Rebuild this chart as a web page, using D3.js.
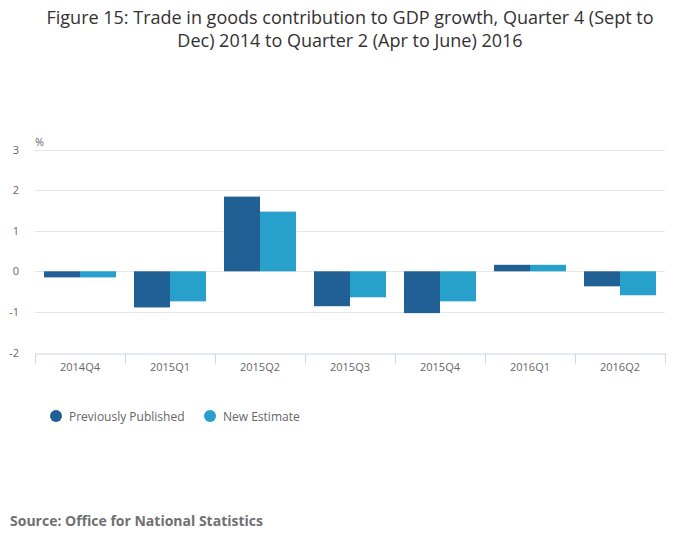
<!DOCTYPE html>
<html lang="en">
  <head>
    <meta charset="UTF-8" />
    <title>Trade in goods contribution to GDP growth</title>
    <script src="https://d3js.org/d3.v7.min.js"></script>
    <style>
      body { margin: 0; background: #fff; }
      text { font-family: "Open Sans", sans-serif; }
    </style>
  </head>
  <body>
    <div id="chart"></div>

    <script>
      // Quarters and the two estimates (percentage points)
      const quarters = ["2014Q4", "2015Q1", "2015Q2", "2015Q3", "2015Q4", "2016Q1", "2016Q2"];
      const previouslyPublished = [-0.15, -0.89, 1.84, -0.86, -1.03, 0.16, -0.37];
      const newEstimate = [-0.15, -0.74, 1.47, -0.64, -0.74, 0.16, -0.59];
      const seriesNames = ["Previously Published", "New Estimate"];
      const yTicks = [-2, -1, 0, 1, 2, 3];

      const width = 700,
        height = 549;
      const margin = { top: 149.5, right: 35, bottom: 196.5, left: 35 };

      const svg = d3
        .select("#chart")
        .append("svg")
        .attr("width", width)
        .attr("height", height);

      // Title, two lines
      svg
        .append("text")
        .attr("x", 350)
        .attr("y", 23.5)
        .attr("text-anchor", "middle")
        .attr("font-size", 18)
        .attr("fill", "#323132")
        .selectAll("tspan")
        .data([
          "Figure 15: Trade in goods contribution to GDP growth, Quarter 4 (Sept to",
          "Dec) 2014 to Quarter 2 (Apr to June) 2016",
        ])
        .join("tspan")
        .attr("x", 350)
        .attr("dy", (d, i) => (i === 0 ? 0 : 23))
        .text((d) => d);

      const x = d3
        .scaleBand()
        .domain(quarters)
        .range([margin.left, width - margin.right])
        .paddingInner(0)
        .paddingOuter(0);

      const xInner = d3
        .scaleBand()
        .domain(seriesNames)
        .range([0, x.bandwidth()])
        .paddingOuter(0.25);

      const y = d3
        .scaleLinear()
        .domain([-2, 3])
        .range([height - margin.bottom, margin.top]);

      const color = d3
        .scaleOrdinal()
        .domain(seriesNames)
        .range(["#206095", "#27a0cc"]);

      // gridlines
      svg
        .append("g")
        .selectAll("line")
        .data(yTicks.filter((t) => t !== -2))
        .join("line")
        .attr("x1", margin.left)
        .attr("x2", width - margin.right)
        .attr("y1", (d) => Math.round(y(d)) + 0.5)
        .attr("y2", (d) => Math.round(y(d)) + 0.5)
        .attr("stroke", "#e6e6e6")
        .attr("stroke-width", 1);

      // y labels
      svg
        .append("g")
        .selectAll("text")
        .data(yTicks)
        .join("text")
        .attr("x", 19)
        .attr("y", (d) => y(d) + 4)
        .attr("text-anchor", "end")
        .attr("font-size", 11)
        .attr("fill", "#666666")
        .text((d) => d);

      svg
        .append("text")
        .attr("x", 35)
        .attr("y", 146)
        .attr("font-size", 11)
        .attr("fill", "#666666")
        .text("%");

      // bars
      const rows = quarters.map((q, i) => ({
        quarter: q,
        values: [previouslyPublished[i], newEstimate[i]],
      }));

      svg
        .append("g")
        .selectAll("g")
        .data(rows)
        .join("g")
        .attr("transform", (d) => `translate(${x(d.quarter)},0)`)
        .selectAll("rect")
        .data((d) => d.values.map((v, j) => ({ key: seriesNames[j], value: v })))
        .join("rect")
        .attr("x", (d) => xInner(d.key))
        .attr("width", xInner.bandwidth())
        .attr("y", (d) => y(Math.max(0, d.value)))
        .attr("height", (d) => Math.abs(y(d.value) - y(0)))
        .attr("fill", (d) => color(d.key));

      // x axis
      const xAxis = svg
        .append("g")
        .attr("transform", `translate(0,${Math.round(y(-2)) + 0.5})`)
        .call(d3.axisBottom(x).tickSize(0).tickPadding(10));
      xAxis.select(".domain").attr("stroke", "#ccd6eb");
      xAxis
        .selectAll("text")
        .attr("font-family", "Open Sans, sans-serif")
        .attr("font-size", 11)
        .attr("fill", "#666666");

      // tick marks on category boundaries
      const boundaries = quarters.map((q) => x(q)).concat([x.range()[1]]);
      xAxis
        .append("g")
        .selectAll("line")
        .data(boundaries)
        .join("line")
        .attr("x1", (d) => Math.round(d) + 0.5)
        .attr("x2", (d) => Math.round(d) + 0.5)
        .attr("y1", 0)
        .attr("y2", 10)
        .attr("stroke", "#ccd6eb");

      // legend
      const legendX = [56, 210];
      const legend = svg
        .append("g")
        .selectAll("g")
        .data(seriesNames)
        .join("g")
        .attr("transform", (d, i) => `translate(${legendX[i]},416)`);
      legend
        .append("circle")
        .attr("r", 6)
        .attr("fill", (d) => color(d));
      legend
        .append("text")
        .attr("x", 13)
        .attr("y", 4.5)
        .attr("font-size", 12)
        .attr("fill", "#666666")
        .text((d) => d);

      // source
      svg
        .append("text")
        .attr("x", 10)
        .attr("y", 526)
        .attr("font-size", 14)
        .attr("font-weight", "bold")
        .attr("fill", "#707071")
        .text("Source: Office for National Statistics");
    </script>
  </body>
</html>
